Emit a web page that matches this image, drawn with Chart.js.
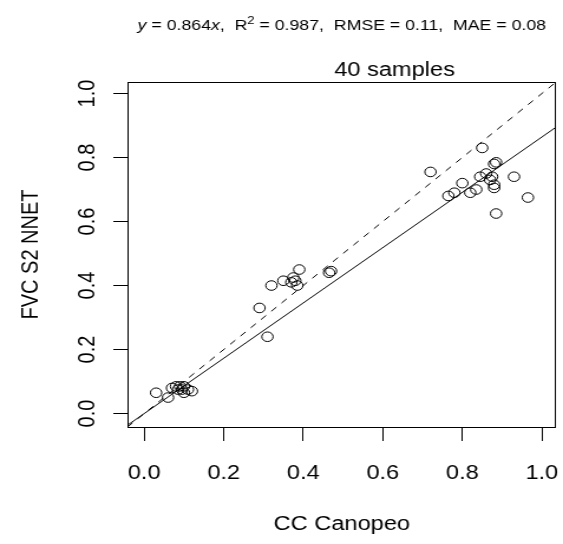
<!DOCTYPE html>
<html>
<head>
<meta charset="utf-8">
<script src="https://cdn.jsdelivr.net/npm/chart.js@4.4.1/dist/chart.umd.min.js"></script>
<style>
  html, body { margin: 0; padding: 0; background: #fff; }
  canvas { display: block; }
</style>
</head>
<body>
<!-- the reference is a slightly widened R plot, so the canvas is drawn narrower and shown at 563px -->
<canvas id="fvc-chart" width="477" height="544" style="width:563px;height:544px"></canvas>
<script>
// observed canopy cover (Canopeo) vs FVC estimated from S2 (NNET)
const ccCanopeo = [
  0.03, 0.06, 0.07, 0.08, 0.085, 0.09, 0.095, 0.10, 0.10, 0.11, 0.12,
  0.29, 0.31, 0.32, 0.35, 0.37, 0.375, 0.38, 0.385, 0.39, 0.465, 0.47,
  0.72, 0.765, 0.78, 0.80, 0.82, 0.835, 0.845, 0.85, 0.86, 0.87, 0.875, 0.88, 0.88, 0.88, 0.885, 0.885, 0.93, 0.965
];
const fvcNnet = [
  0.065, 0.05, 0.08, 0.085, 0.075, 0.085, 0.075, 0.065, 0.085, 0.075, 0.07,
  0.33, 0.24, 0.40, 0.415, 0.41, 0.425, 0.415, 0.40, 0.45, 0.44, 0.445,
  0.755, 0.68, 0.69, 0.72, 0.69, 0.70, 0.74, 0.83, 0.75, 0.73, 0.74, 0.78, 0.715, 0.705, 0.785, 0.625, 0.74, 0.675
];
const tickValues = [0, 0.2, 0.4, 0.6, 0.8, 1.0];
const axisLimits = [-0.042, 1.036];
const fitSlope = 0.864;
const r2 = '0.987';
const rmse = '0.11';
const mae = '0.08';
const sampleLabel = ccCanopeo.length + ' samples';

const FONT = '"Liberation Sans", Arial, sans-serif';

// box round the plot plus the two text lines on top
const annotate = {
  id: 'annotate',
  afterDraw(chart) {
    const ctx = chart.ctx;
    const a = chart.chartArea;
    ctx.save();
    ctx.strokeStyle = '#000';
    ctx.lineWidth = 1;
    ctx.strokeRect(Math.round(a.left) + 0.5, Math.round(a.top) + 0.5,
      Math.round(a.right - a.left) - 1, Math.round(a.bottom - a.top));

    // stats line, mixed italic / superscript
    const parts = [
      { t: 'y', f: 'italic 15px ' + FONT },
      { t: ' = ' + fitSlope, f: '15px ' + FONT },
      { t: 'x', f: 'italic 15px ' + FONT },
      { t: ',  R', f: '15px ' + FONT },
      { t: '2', f: '11px ' + FONT, up: 6 },
      { t: ' = ' + r2 + ',  RMSE = ' + rmse + ',  MAE = ' + mae, f: '15px ' + FONT }
    ];
    let w = 0;
    for (const p of parts) { ctx.font = p.f; w += ctx.measureText(p.t).width; }
    let x = (a.left + a.right) / 2 - w / 2;
    ctx.fillStyle = '#000';
    ctx.textBaseline = 'alphabetic';
    for (const p of parts) {
      ctx.font = p.f;
      ctx.fillText(p.t, x, 30 - (p.up || 0));
      x += ctx.measureText(p.t).width;
    }

    ctx.font = '20px ' + FONT;
    ctx.textAlign = 'center';
    ctx.fillText(sampleLabel, a.left + (a.right - a.left) * 0.623, 76);
    ctx.restore();
  }
};

const points = ccCanopeo.map((x, i) => ({ x: x, y: fvcNnet[i] }));

new Chart(document.getElementById('fvc-chart').getContext('2d'), {
  type: 'scatter',
  data: {
    datasets: [
      {
        data: points,
        pointStyle: 'circle',
        pointRadius: 4.8,
        borderColor: '#000',
        backgroundColor: 'rgba(0,0,0,0)',
        borderWidth: 1
      },
      {
        type: 'line',
        data: axisLimits.map(v => ({ x: v, y: v * fitSlope })),
        borderColor: '#000',
        borderWidth: 1,
        pointRadius: 0,
        fill: false
      },
      {
        type: 'line',
        data: axisLimits.map(v => ({ x: v, y: v })),
        borderColor: '#000',
        borderWidth: 1,
        borderDash: [6, 6],
        pointRadius: 0,
        fill: false
      }
    ]
  },
  options: {
    responsive: false,
    animation: false,
    layout: { padding: { top: 82, right: 1, left: 0, bottom: 0 } },
    plugins: {
      legend: { display: false },
      tooltip: { enabled: false }
    },
    scales: {
      x: {
        type: 'linear',
        min: axisLimits[0],
        max: axisLimits[1],
        afterBuildTicks: s => { s.ticks = tickValues.map(v => ({ value: v })); },
        afterFit: s => { s.height = 117; s.paddingLeft = 0; s.paddingRight = 0; },
        border: { display: false },
        grid: { drawOnChartArea: false, drawTicks: true, tickLength: 14, color: '#000', lineWidth: 1 },
        ticks: {
          padding: 20,
          color: '#000',
          font: { family: FONT, size: 20 },
          maxRotation: 0,
          callback: v => v.toFixed(1)
        },
        title: {
          display: true,
          text: 'CC Canopeo',
          color: '#000',
          font: { family: FONT, size: 20 },
          padding: { top: 0, bottom: 8 }
        }
      },
      y: {
        type: 'linear',
        min: axisLimits[0],
        max: axisLimits[1],
        afterBuildTicks: s => { s.ticks = tickValues.map(v => ({ value: v })); },
        afterFit: s => { s.width = 108; s.paddingTop = 0; s.paddingBottom = 0; },
        border: { display: false },
        grid: { drawOnChartArea: false, drawTicks: true, tickLength: 12, color: '#000', lineWidth: 1 },
        ticks: {
          padding: 7.5,
          color: '#000',
          minRotation: 90,
          maxRotation: 90,
          crossAlign: 'center',
          font: { family: FONT, size: 20 },
          callback: v => v.toFixed(1)
        },
        title: {
          display: true,
          text: 'FVC S2 NNET',
          color: '#000',
          font: { family: FONT, size: 20 },
          padding: { top: 14, bottom: 0 }
        }
      }
    }
  },
  plugins: [annotate]
});
</script>
</body>
</html>
